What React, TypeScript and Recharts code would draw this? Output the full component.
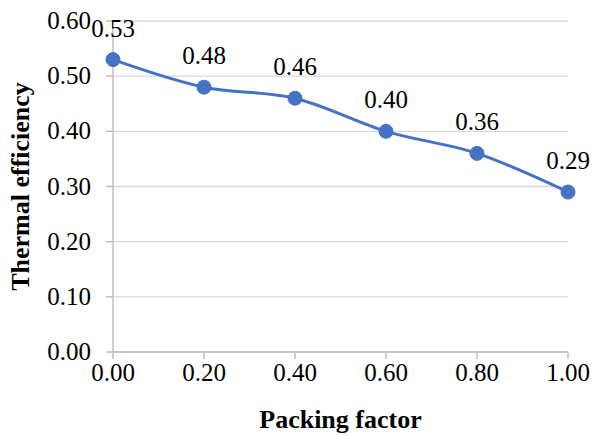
import { LineChart, Line, XAxis, YAxis, CartesianGrid, LabelList } from 'recharts';

const packingFactor = [0, 0.2, 0.4, 0.6, 0.8, 1.0];
const efficiency = [0.53, 0.48, 0.46, 0.4, 0.36, 0.29];
const xTicks = [0, 0.2, 0.4, 0.6, 0.8, 1.0];
const yTicks = [0, 0.1, 0.2, 0.3, 0.4, 0.5, 0.6];

const data = packingFactor.map((x, i) => ({ x, y: efficiency[i] }));

const font = '"Liberation Serif", "Times New Roman", serif';
const fmt = (v: number) => Number(v).toFixed(2);
const textStyle = { fontFamily: font, fontSize: 25, fill: '#000' };
const titleStyle = { fontFamily: font, fontSize: 26, fontWeight: 'bold', fill: '#000' };

const XTick = (p: any) => (
  <text x={p.x} y={p.y} dy={18} textAnchor="middle" style={textStyle}>
    {fmt(p.payload.value)}
  </text>
);

const YTick = (p: any) => (
  <text x={p.x} y={p.y} dy={8} textAnchor="end" style={textStyle}>
    {fmt(p.payload.value)}
  </text>
);

const PointLabel = (p: any) => (
  <text x={p.x} y={p.y} dy={-23} textAnchor="middle" style={textStyle}>
    {fmt(p.value)}
  </text>
);

export default function App() {
  return (
    <div style={{ position: 'absolute', left: 0, top: 0, background: '#fff' }}>
      <LineChart width={592} height={436} data={data} margin={{ top: 21, right: 24, bottom: 0, left: 0 }}>
        <CartesianGrid vertical={false} stroke="#d9d9d9" strokeWidth={1.3} />
        <XAxis
          dataKey="x"
          type="number"
          domain={[0, 1]}
          ticks={xTicks}
          height={84}
          stroke="#bfbfbf"
          strokeWidth={1.5}
          tickSize={7}
          tickMargin={4}
          tick={XTick}
          label={{ value: 'Packing factor', position: 'insideBottom', offset: 8, style: titleStyle }}
        />
        <YAxis
          type="number"
          domain={[0, 0.6]}
          ticks={yTicks}
          width={113}
          stroke="#bfbfbf"
          strokeWidth={1.5}
          tickSize={7}
          tickMargin={15}
          tick={YTick}
          label={{
            value: 'Thermal efficiency',
            angle: -90,
            position: 'insideLeft',
            offset: 20,
            style: { ...titleStyle, textAnchor: 'middle' },
          }}
        />
        <Line
          dataKey="y"
          type="monotone"
          stroke="#4472c4"
          strokeWidth={3}
          dot={{ r: 7, fill: '#4472c4', stroke: '#4472c4', strokeWidth: 1 }}
          isAnimationActive={false}
        >
          <LabelList dataKey="y" content={PointLabel} />
        </Line>
      </LineChart>
    </div>
  );
}
